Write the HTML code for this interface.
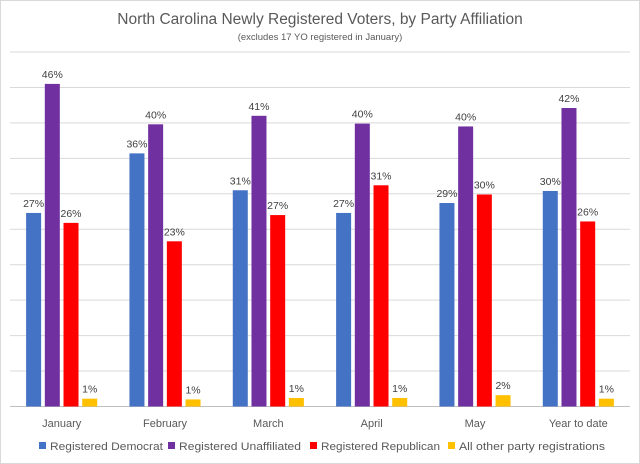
<!DOCTYPE html>
<html><head><meta charset="utf-8"><style>
body{margin:0;background:#fff}
svg{display:block;font-family:"Liberation Sans",sans-serif}
</style></head><body>
<svg id="c" width="640" height="464">
<rect x="0.5" y="0.5" width="639" height="463" fill="#fff" stroke="#d9d9d9"/>
<text x="320" y="24" text-anchor="middle" font-size="15.5" fill="#595959">North Carolina Newly Registered Voters, by Party Affiliation</text>
<text x="320" y="40" text-anchor="middle" font-size="9.5" fill="#595959">(excludes 17 YO registered in January)</text>
<g id="grid"></g><g id="bars"></g><g id="labels"></g><g id="legend"></g>
</svg>
<script>
const categories=["January","February","March","April","May","Year to date"];
const democrat=[27.3,35.7,30.5,27.3,28.7,30.4];
const unaffiliated=[45.5,39.8,41.0,39.9,39.5,42.1];
const republican=[25.9,23.3,27.0,31.2,29.9,26.1];
const other=[1.1,1.0,1.2,1.2,1.6,1.1];
const demLabels=["27%","36%","31%","27%","29%","30%"];
const unaLabels=["46%","40%","41%","40%","40%","42%"];
const repLabels=["26%","23%","27%","31%","30%","26%"];
const othLabels=["1%","1%","1%","1%","2%","1%"];
const ticks=[0,5,10,15,20,25,30,35,40,45,50];
const NS="http://www.w3.org/2000/svg";
const X0=10,X1=630,Y0=406.5,Y1=52;
const y=v=>Y0-(v/50)*(Y0-Y1);
const step=(X1-X0)/categories.length;
const cx=i=>X0+step*(i+0.5);
function mk(t,a,p){const e=document.createElementNS(NS,t);for(const k in a)e.setAttribute(k,a[k]);p.appendChild(e);return e;}
const grid=document.getElementById('grid');
ticks.forEach(t=>{const l=mk('line',{x1:X0,x2:X1,y1:y(t),y2:y(t),stroke:t===0?'#bfbfbf':'#d9d9d9','stroke-width':1},grid);

});
const series=[[democrat,demLabels,'#4472c4','democrat'],[unaffiliated,unaLabels,'#7030a0','unaffiliated'],[republican,repLabels,'#ff0000','republican'],[other,othLabels,'#ffc000','other']];
const bw=15,gap=3.7;
const bars=document.getElementById('bars'),labels=document.getElementById('labels');
categories.forEach((c,i)=>{
 series.forEach((s,j)=>{
  const x=cx(i)-(4*bw+3*gap)/2+j*(bw+gap);
  const r=mk('rect',{x:x,y:y(s[0][i]),width:bw,height:Y0-y(s[0][i]),fill:s[2]},bars);
  
  
  const t=mk('text',{x:x+bw/2,y:y(s[0][i])-6,'text-anchor':'middle','font-size':10.5,fill:'#404040'},labels);
  t.textContent=s[1][i];
  
  
 });
 const t=mk('text',{x:cx(i),y:427,'text-anchor':'middle','font-size':11,fill:'#595959'},labels);
 t.textContent=c;
 
 
});
const leg=document.getElementById('legend');
const legNames=["Registered Democrat","Registered Unaffiliated","Registered Republican","All other party registrations"];
const legX=[39,168,310,448];
const legW=[113,122,119,146];
legNames.forEach((n,j)=>{
 const g=mk('g',{},leg);
 
 
 mk('rect',{x:legX[j],y:442,width:7,height:7,fill:series[j][2]},g);
 const t=mk('text',{x:legX[j]+11,y:450,'font-size':11,fill:'#595959',textLength:legW[j],lengthAdjust:'spacingAndGlyphs'},g);
 t.textContent=n;
});
</script>
</body></html>
